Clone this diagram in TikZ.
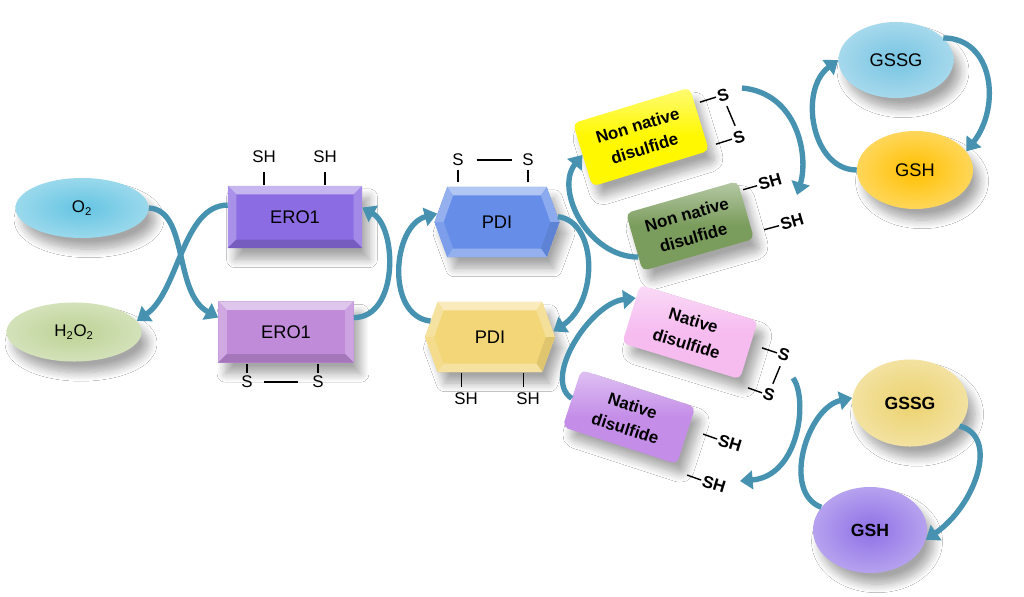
\documentclass[tikz,border=0pt]{standalone}
\usepackage{fontspec}
\setmainfont{Liberation Sans}
\usetikzlibrary{shapes.geometric,shapes.symbols,arrows.meta,shadows.blur,calc}
\definecolor{arr}{RGB}{70,146,176}
\definecolor{o2c}{RGB}{100,196,226}
\definecolor{h2c}{RGB}{188,210,148}
\definecolor{eroac}{RGB}{140,108,226}
\definecolor{erobc}{RGB}{192,140,218}
\definecolor{pdiac}{RGB}{102,142,232}
\definecolor{pdibc}{RGB}{242,214,120}
\definecolor{nnyc}{RGB}{255,248,0}
\definecolor{nngc}{RGB}{122,156,92}
\definecolor{npkc}{RGB}{246,188,240}
\definecolor{nppc}{RGB}{196,142,232}
\definecolor{gsaac}{RGB}{118,196,226}
\definecolor{gshac}{RGB}{255,192,0}
\definecolor{gsbbc}{RGB}{236,210,110}
\definecolor{gshbc}{RGB}{142,112,230}
\tikzset{
  shad/.style={blur shadow={shadow xshift=5pt, shadow yshift=-8pt, shadow opacity=35, shadow blur steps=10, shadow blur radius=6pt}},
  ell/.style={ellipse, inner sep=0pt, inner color=#1, outer color=#1!65!white, shad},
  bevbox/.style={rectangle, inner sep=0pt, fill=#1, shad,
    path picture={
      \coordinate (bvA) at (path picture bounding box.north west);
      \coordinate (bvB) at (path picture bounding box.north east);
      \coordinate (bvC) at (path picture bounding box.south east);
      \coordinate (bvD) at (path picture bounding box.south west);
      \coordinate (bva) at ([shift={(6pt,-6pt)}]bvA);
      \coordinate (bvb) at ([shift={(-6pt,-6pt)}]bvB);
      \coordinate (bvc) at ([shift={(-6pt,6pt)}]bvC);
      \coordinate (bvd) at ([shift={(6pt,6pt)}]bvD);
      \fill[#1!50!white] (bvA)--(bvB)--(bvb)--(bva)--cycle;
      \fill[#1!75!white] (bvA)--(bva)--(bvd)--(bvD)--cycle;
      \fill[#1!80!white] (bvB)--(bvC)--(bvc)--(bvb)--cycle;
      \fill[#1!85!black] (bvD)--(bvC)--(bvc)--(bvd)--cycle;
    }},
  bevhex/.style={signal, signal to=east and west, signal pointer angle=140,
    inner sep=0pt, fill=#1, shad,
    path picture={
      \coordinate (hW) at (path picture bounding box.west);
      \coordinate (hE) at (path picture bounding box.east);
      \coordinate (hNW) at ([xshift=9pt]path picture bounding box.north west);
      \coordinate (hNE) at ([xshift=-9pt]path picture bounding box.north east);
      \coordinate (hSW) at ([xshift=9pt]path picture bounding box.south west);
      \coordinate (hSE) at ([xshift=-9pt]path picture bounding box.south east);
      \coordinate (hw) at ([xshift=6.5pt]hW);
      \coordinate (he) at ([xshift=-6.5pt]hE);
      \coordinate (hnw) at ([shift={(4.2pt,-6pt)}]hNW);
      \coordinate (hne) at ([shift={(-4.2pt,-6pt)}]hNE);
      \coordinate (hsw) at ([shift={(4.2pt,6pt)}]hSW);
      \coordinate (hse) at ([shift={(-4.2pt,6pt)}]hSE);
      \fill[#1!50!white] (hNW)--(hNE)--(hne)--(hnw)--cycle;
      \fill[#1!70!white] (hW)--(hNW)--(hnw)--(hw)--cycle;
      \fill[#1!85!white] (hW)--(hSW)--(hsw)--(hw)--cycle;
      \fill[#1!75!white] (hE)--(hNE)--(hne)--(he)--cycle;
      \fill[#1!92!black] (hE)--(hSE)--(hse)--(he)--cycle;
      \fill[#1!70!white] (hSW)--(hSE)--(hse)--(hsw)--cycle;
    }},
  dbox/.style={rectangle, rounded corners=4pt, inner sep=2pt, align=center,
    top color=#1!55!white, bottom color=#1, middle color=#1, shad,
    font=\bfseries\fontsize{12}{17}\selectfont},
  big/.style={font=\fontsize{13}{15}\selectfont},
  lbl/.style={inner sep=1pt, font=\fontsize{12}{14}\selectfont},
  blbl/.style={inner sep=1pt, font=\bfseries\fontsize{12}{14}\selectfont},
  bond/.style={line width=1pt, black},
  cyc/.style={draw=arr, line width=3.8pt, -{Triangle[width=13pt,length=9pt]}},
}
\begin{document}
\begin{tikzpicture}[x=0.025cm, y=-0.025cm]
\fill[white] (0,0) rectangle (1024,597);
\useasboundingbox (0,0) rectangle (1024,597);

% left ellipses
\node[ell=o2c, minimum width=3.325cm, minimum height=1.5cm, font=\fontsize{12}{14}\selectfont] (O2) at (82,208) {O\textsubscript{2}};
\node[ell=h2c, minimum width=3.375cm, minimum height=1.475cm, font=\fontsize{12}{14}\selectfont] (H2O2) at (74,332) {H\textsubscript{2}O\textsubscript{2}};

% ERO1 boxes
\node[bevbox=eroac, minimum width=3.35cm, minimum height=1.55cm, big] (ERO1a) at (295,217) {ERO1};
\node[bevbox=erobc, minimum width=3.375cm, minimum height=1.525cm, big] (ERO1b) at (286,332) {ERO1};

% PDI hexagons
\node[bevhex=pdiac, minimum width=3.125cm, minimum height=1.75cm, big] (PDIa) at (497,222) {PDI};
\node[bevhex=pdibc, minimum width=3.25cm, minimum height=1.75cm, big] (PDIb) at (490,337) {PDI};

% disulfide boxes
\node[dbox=nnyc, rotate=17, minimum width=3.05cm, minimum height=1.65cm] (NNy) at (641,137) {Non native\\disulfide};
\node[dbox=nngc, rotate=16, minimum width=2.9cm, minimum height=1.5cm] (NNg) at (690,226) {Non native\\disulfide};
\node[dbox=npkc, rotate=-17, minimum width=3.075cm, minimum height=1.525cm] (Npink) at (690,332) {Native\\disulfide};
\node[dbox=nppc, rotate=-18, minimum width=3.0cm, minimum height=1.5cm] (Npurple) at (629,417) {Native\\disulfide};

% glutathione ellipses
\node[ell=gsaac, minimum width=2.875cm, minimum height=1.9cm, big] (GSSGa) at (896,60) {GSSG};
\node[ell=gshac, minimum width=2.9cm, minimum height=1.95cm, big] (GSHa) at (915,170) {GSH};
\node[ell=gsbbc, minimum width=2.9cm, minimum height=2.175cm, font=\bfseries\fontsize{12.5}{14}\selectfont] (GSSGb) at (910,403) {GSSG};
\node[ell=gshbc, minimum width=2.85cm, minimum height=2.15cm, font=\bfseries\fontsize{12.5}{14}\selectfont] (GSHb) at (870,530) {GSH};

% ERO1 thiol labels
\node[lbl] (eSH1) at (264,157) {SH};
\node[lbl] (eSH2) at (325,157) {SH};
\draw[bond, shorten <=0.7pt, shorten >=5pt] (ERO1a.north -| eSH1) -- (eSH1.south);
\draw[bond, shorten <=0.7pt, shorten >=5pt] (ERO1a.north -| eSH2) -- (eSH2.south);
\node[lbl] (eS1) at (247,382) {S};
\node[lbl] (eS2) at (318,382) {S};
\draw[bond, shorten <=0.7pt, shorten >=1pt] (ERO1b.south -| eS1) -- (eS1.north);
\draw[bond, shorten <=0.7pt, shorten >=1pt] (ERO1b.south -| eS2) -- (eS2.north);
\draw[bond, shorten <=7pt, shorten >=9pt] (eS1.east) -- (eS2.west);

% PDI thiol labels
\node[lbl] (pS1) at (458,160) {S};
\node[lbl] (pS2) at (528,160) {S};
\draw[bond, shorten <=3pt, shorten >=2pt] (PDIa.north -| pS1) -- (pS1.south);
\draw[bond, shorten <=3pt, shorten >=2pt] (PDIa.north -| pS2) -- (pS2.south);
\draw[bond, shorten <=8pt, shorten >=6pt] (pS1.east) -- (pS2.west);
\node[lbl] (pSH1) at (466,399) {SH};
\node[lbl] (pSH2) at (528,399) {SH};
\draw[bond, shorten <=0.7pt, shorten >=3pt] ([xshift=-3pt]PDIb.south -| pSH1) -- ([xshift=-3pt]pSH1.north);
\draw[bond, shorten <=0.7pt, shorten >=3pt] ([xshift=-3pt]PDIb.south -| pSH2) -- ([xshift=-3pt]pSH2.north);

% non native labels
\node[blbl, rotate=17] (yS1) at (723,95) {S};
\node[blbl, rotate=17] (yS2) at (739,137) {S};
\draw[bond] (yS1.west) -- +(-16,5);
\draw[bond] (yS2.west) -- +(-16,5);
\draw[bond, shorten <=3pt, shorten >=3pt] (yS1.south) -- (yS2.north);
\node[blbl, rotate=16] (gSH1) at (770,182) {SH};
\node[blbl, rotate=16] (gSH2) at (792,222) {SH};
\draw[bond] (gSH1.west) -- +(-14,4);
\draw[bond] (gSH2.west) -- +(-15,4);

% native labels
\node[blbl, rotate=-17] (nS1) at (784,355) {S};
\node[blbl, rotate=-17] (nS2) at (769,395) {S};
\draw[bond] (nS1.west) -- +(-15,-5);
\draw[bond] (nS2.west) -- +(-14,-5);
\draw[bond, shorten <=3pt, shorten >=3pt] (nS1.south) -- (nS2.north);
\node[blbl, rotate=-17] (nSH1) at (730,443) {SH};
\node[blbl, rotate=-17] (nSH2) at (714,484) {SH};
\draw[bond] (nSH1.west) -- +(-14,-5);
\draw[bond] (nSH2.west) -- +(-14,-5);

\coordinate (a8s) at (742,88);
\coordinate (a8e) at (797,195);
\coordinate (a11s) at (793,378);
\coordinate (a11e) at (740,481);

% cycle arrows
\draw[cyc] (O2.east) .. controls +(40,2) and +(-45,-25) .. (ERO1b.168);
\draw[cyc] (ERO1a.170) .. controls +(-45,0) and +(42,-30) .. (H2O2.10);
\draw[cyc] (ERO1b.12) .. controls +(45,0) and +(35,20) .. (ERO1a.8);
\draw[cyc] (PDIb.165) .. controls +(-45,-5) and +(-45,12) .. (PDIa.172);
\draw[cyc] (PDIa.5) .. controls +(40,5) and +(45,-30) .. (PDIb.5);
\draw[cyc] (Npurple.west) .. controls +(-30,-20) and +(-45,5) .. (Npink.165);
\draw[cyc] (NNg.195) .. controls +(-50,0) and +(-28,35) .. (NNy.west);
\draw[cyc] (a8s) .. controls +(55,5) and +(12,-40) .. (a8e);
\draw[cyc] (GSHa.west) .. controls +(-45,0) and +(-40,30) .. (GSSGa.west);
\draw[cyc] (GSSGa.25) .. controls +(50,0) and +(35,-45) .. (GSHa.20);
\draw[cyc] (a11s) .. controls +(15,20) and +(60,-5) .. (a11e);
\draw[cyc] (GSHb.155) .. controls +(-40,-15) and +(-45,10) .. (GSSGb.175);
\draw[cyc] (GSSGb.335) .. controls +(40,10) and +(50,-35) .. (GSHb.350);
\end{tikzpicture}
\end{document}
